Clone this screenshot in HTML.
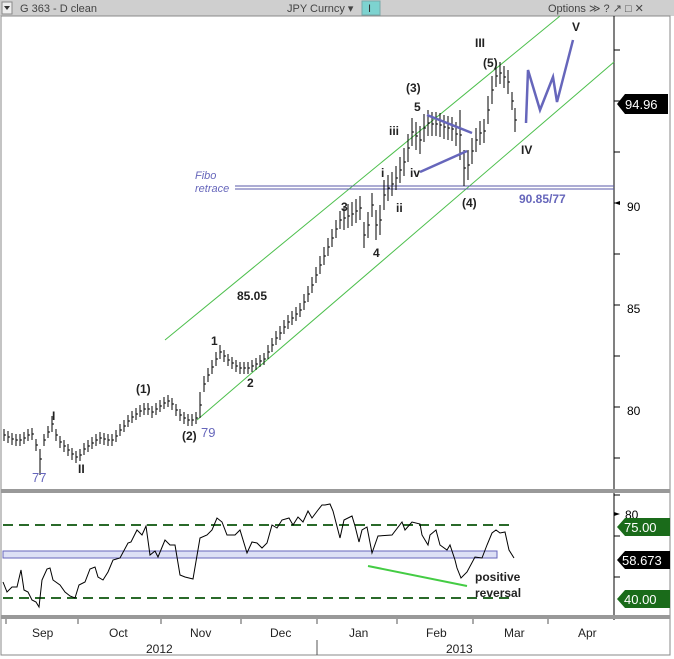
<!DOCTYPE html>
<html><head><meta charset="utf-8"><style>
body{margin:0;background:#fff;}
svg{display:block;font-family:"Liberation Sans",sans-serif;}
</style></head><body>
<svg width="674" height="659" xmlns="http://www.w3.org/2000/svg">
<rect x="0" y="0" width="674" height="659" fill="#fff"/>
<rect x="0" y="0" width="674" height="16" fill="#cfcfcf"/>
<rect x="2" y="2" width="10" height="12" fill="#eee" stroke="#888"/>
<path d="M4,6 L10,6 L7,10Z" fill="#333"/>
<text x="20" y="12" font-size="11" fill="#444">G 363 - D clean</text>
<text x="287" y="12" font-size="11" fill="#444">JPY Curncy ▾</text>
<rect x="362" y="1" width="18" height="14" fill="#7dd3d0" stroke="#7aa"/>
<text x="368" y="12" font-size="11" fill="#333">I</text>
<text x="548" y="12" font-size="11" fill="#444">Options ≫  ?  ↗  □  ✕</text>
<rect x="1" y="16" width="669" height="639" fill="none" stroke="#888"/>
<line x1="614" y1="16" x2="614" y2="620" stroke="#000"/>
<rect x="1" y="489" width="669" height="4" fill="#999"/>
<rect x="1" y="615" width="669" height="4" fill="#999"/>
<g font-size="12" fill="#000">
<path d="M614,101h6M614,203h6M614,305h6M614,407h6M614,50h6M614,152h6M614,254h6M614,356h6M614,458h6" stroke="#000"/>
<path d="M614,203 l6,-2 0,4z" fill="#000"/>
<text x="627" y="211">90</text><text x="627" y="313">85</text><text x="627" y="415">80</text>
</g>
<path d="M617,104 L625,94 L668,94 L668,114 L625,114Z" fill="#000"/>
<text x="625" y="109" font-size="13" fill="#fff">94.96</text>
<line x1="165" y1="340" x2="560" y2="16" stroke="#4cbf4c"/>
<line x1="197" y1="420" x2="614" y2="62" stroke="#4cbf4c"/>
<line x1="235" y1="186" x2="614" y2="186" stroke="#5a5aa8"/>
<line x1="235" y1="189" x2="614" y2="189" stroke="#5a5aa8"/>
<text x="195" y="179" font-size="11" font-style="italic" fill="#6666bb">Fibo</text>
<text x="195" y="192" font-size="11" font-style="italic" fill="#6666bb">retrace</text>
<text x="519" y="203" font-size="12" font-weight="bold" fill="#6666bb">90.85/77</text>
<path fill="none" stroke="#000" stroke-width="1" d="
M4,429v12m0,-6h2 M8,431v12m0,-6h2 M12,433v12m0,-6h2 M16,434v12m0,-6h2 M20,434v12m0,-6h2 M24,432v12m0,-6h2 M28,429v12m0,-6h2 M32,428v12m0,-6h2 M36,439v12m0,-6h2 M40,449v26m0,-16h2 M44,434v12m0,-6h2 M48,426v12m0,-6h2 M52,416v16m0,-8h2 M56,429v12m0,-6h2
M60,436v12m0,-6h2 M64,440v12m0,-6h2 M68,444v12m0,-6h2 M72,448v12m0,-6h2 M76,451v12m0,-6h2 M80,449v12m0,-6h2 M84,443v12m0,-6h2 M88,440v12m0,-6h2 M92,437v12m0,-6h2 M96,434v12m0,-6h2 M100,432v12m0,-6h2 M104,433v12m0,-6h2 M108,434v12m0,-6h2 M112,434v12m0,-6h2
M116,430v12m0,-6h2 M120,424v12m0,-6h2 M124,420v12m0,-6h2 M128,415v12m0,-6h2 M132,411v12m0,-6h2 M136,408v12m0,-6h2 M140,405v12m0,-6h2 M144,403v12m0,-6h2 M148,403v12m0,-6h2 M152,406v12m0,-6h2 M156,403v12m0,-6h2 M160,400v12m0,-6h2 M164,397v12m0,-6h2 M168,395v12m0,-6h2
M172,398v12m0,-6h2 M176,404v12m0,-6h2 M180,409v12m0,-6h2 M184,412v12m0,-6h2 M188,414v12m0,-6h2 M192,414v12m0,-6h2 M196,412v12m0,-6h2 M200,392v26m0,-13h2 M204,376v16m0,-8h2 M208,368v14m0,-7h2 M212,360v14m0,-7h2 M216,352v14m0,-7h2 M220,345v14m0,-7h2 M224,350v12m0,-6h2
M228,354v12m0,-6h2 M232,357v12m0,-6h2 M236,360v12m0,-6h2 M240,362v12m0,-6h2 M244,362v12m0,-6h2 M248,362v12m0,-6h2 M252,360v12m0,-6h2 M256,358v12m0,-6h2 M260,355v12m0,-6h2 M264,353v12m0,-6h2 M268,345v14m0,-7h2 M272,338v14m0,-7h2 M276,331v14m0,-7h2 M280,326v14m0,-7h2
M284,320v14m0,-7h2 M288,315v14m0,-7h2 M292,311v14m0,-7h2 M296,307v14m0,-7h2 M300,303v14m0,-7h2 M304,294v16m0,-8h2 M308,286v16m0,-8h2 M312,277v16m0,-8h2 M316,267v16m0,-8h2 M320,256v18m0,-9h2 M324,247v18m0,-9h2 M328,238v18m0,-9h2 M332,229v18m0,-9h2 M336,220v18m0,-9h2
M340,211v18m0,-9h2 M344,206v24m0,-12h2 M348,204v24m0,-12h2 M352,202v24m0,-12h2 M356,199v24m0,-12h2 M360,196v24m0,-12h2 M364,222v26m0,-13h2 M368,212v26m0,-13h2 M372,193v24m0,-12h2 M376,210v30m0,-15h2 M380,205v30m0,-15h2 M384,180v30m0,-15h2 M388,175v26m0,-13h2
M392,172v24m0,-12h2 M396,166v24m0,-12h2 M400,157v26m0,-13h2 M404,148v28m0,-14h2 M408,134v28m0,-14h2 M412,118v28m0,-14h2 M416,122v28m0,-14h2 M420,126v28m0,-14h2 M424,114v28m0,-14h2 M428,110v26m0,-13h2 M432,112v24m0,-12h2 M436,112v24m0,-12h2 M440,113v24m0,-12h2
M444,115v24m0,-12h2 M448,116v24m0,-12h2 M452,117v24m0,-12h2 M456,122v24m0,-12h2 M460,110v50m0,-25h2 M464,150v36m0,-18h2 M468,150v30m0,-15h2 M472,138v26m0,-13h2 M476,128v24m0,-12h2 M480,121v24m0,-12h2 M484,119v24m0,-12h2 M488,96v28m0,-14h2 M492,76v28m0,-14h2
M496,65v22m0,-11h2 M500,62v22m0,-11h2 M504,66v22m0,-11h2 M508,70v24m0,-12h2 M512,92v18m0,-9h2 M515,108v24m0,-12h2"/>
<polyline points="526,123 528,70 540,110 553,77 557,102 573,40" fill="none" stroke="#6666bb" stroke-width="2.5"/>
<line x1="427" y1="115" x2="472" y2="133" stroke="#6666bb" stroke-width="2.5"/>
<line x1="420" y1="172" x2="467" y2="151" stroke="#6666bb" stroke-width="2.5"/>
<g font-size="12" font-weight="bold" fill="#222">
<text x="52" y="420">I</text><text x="78" y="473">II</text>
<text x="136" y="393">(1)</text><text x="182" y="440">(2)</text>
<text x="211" y="345">1</text><text x="247" y="387">2</text>
<text x="237" y="300">85.05</text>
<text x="341" y="211">3</text><text x="373" y="257">4</text>
<text x="381" y="177">i</text><text x="396" y="212">ii</text>
<text x="389" y="135">iii</text><text x="410" y="177">iv</text>
<text x="414" y="111">5</text><text x="406" y="92">(3)</text>
<text x="462" y="207">(4)</text><text x="483" y="67">(5)</text>
<text x="475" y="47">III</text><text x="521" y="154">IV</text>
<text x="572" y="31">V</text>
</g>
<text x="32" y="482" font-size="13" fill="#6666bb">77</text>
<text x="201" y="437" font-size="13" fill="#6666bb">79</text>
<rect x="3" y="551" width="494" height="7" fill="#dde0f5" stroke="#6666bb"/>
<line x1="3" y1="525" x2="515" y2="525" stroke="#2a6a2a" stroke-width="2" stroke-dasharray="10,6"/>
<line x1="3" y1="598" x2="515" y2="598" stroke="#2a6a2a" stroke-width="2" stroke-dasharray="10,6"/>
<line x1="368" y1="566" x2="467" y2="586" stroke="#44cc44" stroke-width="2"/>
<polyline fill="none" stroke="#000" stroke-width="1" points="3,582 7,592 12,587 17,587 21,570 24,590 28,592 32,600 36,602 39,607 42,580 47,569 50,568 53,580 60,585 65,592 70,596 75,598 79,585 85,582 90,569 95,567 98,577 103,580 108,572 113,560 120,558 128,543 131,542 137,530 142,535 146,526 150,555 155,551 158,557 165,540 170,545 175,545 180,575 185,577 193,579 200,538 207,535 212,530 217,518 222,522 227,535 235,535 240,530 247,553 252,542 257,543 262,548 267,543 272,525 277,528 282,520 289,518 293,525 298,517 303,522 308,511 312,518 318,510 322,505 325,505 330,504 333,511 340,538 344,520 352,516 355,526 359,542 362,530 367,527 372,553 378,536 392,535 402,522 405,530 412,522 420,524 422,535 428,545 430,535 436,530 440,545 447,550 450,545 455,560 457,568 461,578 467,572 475,557 482,558 487,545 492,533 496,530 500,533 505,532 509,550 514,558"/>
<text x="475" y="581" font-size="12" font-weight="bold" fill="#222">positive</text>
<text x="475" y="597" font-size="12" font-weight="bold" fill="#222">reversal</text>
<g font-size="12"><path d="M614,495h6M614,536h6M614,577h6" stroke="#000"/>
<path d="M614,512 l6,2 -6,2z" fill="#000"/><text x="625" y="519">80</text></g>
<path d="M617,527 L625,518 L670,518 L670,536 L625,536Z" fill="#1a6b1a"/>
<text x="624" y="532" font-size="13" fill="#fff">75.00</text>
<path d="M617,560 L625,551 L670,551 L670,569 L625,569Z" fill="#000"/>
<text x="622" y="565" font-size="13" fill="#fff">58.673</text>
<path d="M617,599 L625,590 L670,590 L670,608 L625,608Z" fill="#1a6b1a"/>
<text x="624" y="604" font-size="13" fill="#fff">40.00</text>
<path d="M6,619v5M78,619v5M161,619v5M241,619v5M317,619v5M397,619v5M473,619v5M548,619v5M317,640v15" stroke="#555"/>
<g font-size="12" fill="#222">
<text x="32" y="637">Sep</text><text x="109" y="637">Oct</text><text x="190" y="637">Nov</text><text x="270" y="637">Dec</text>
<text x="349" y="637">Jan</text><text x="426" y="637">Feb</text><text x="504" y="637">Mar</text><text x="578" y="637">Apr</text>
<text x="146" y="653">2012</text><text x="446" y="653">2013</text>
</g>
</svg>
</body></html>
